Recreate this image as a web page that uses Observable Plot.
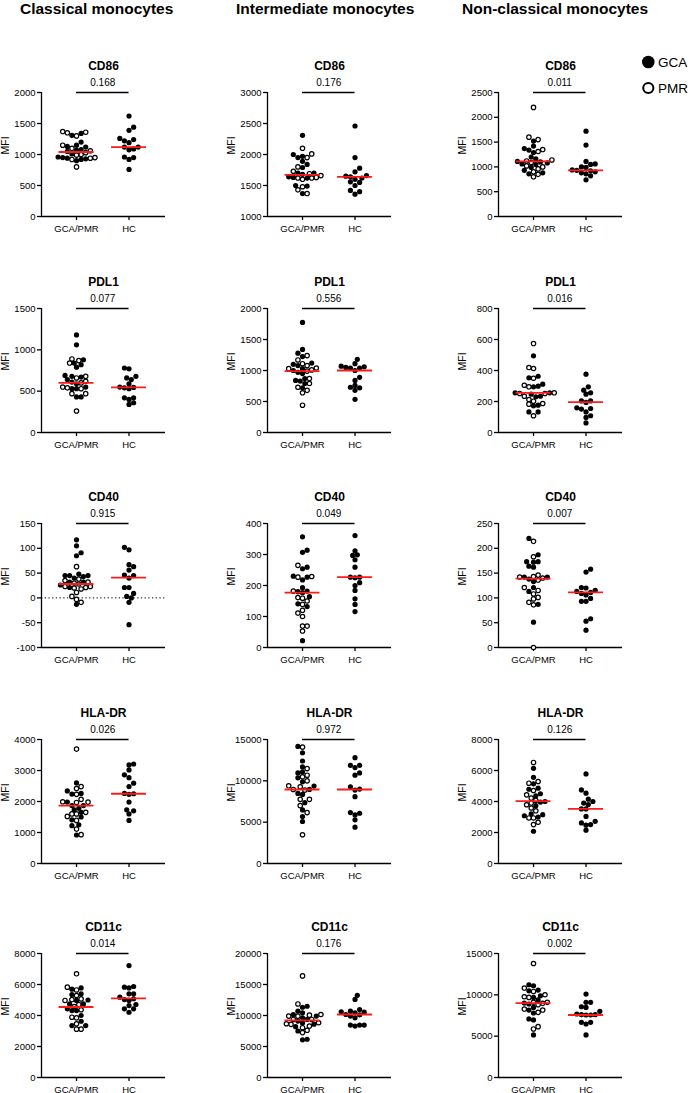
<!DOCTYPE html>
<html><head><meta charset="utf-8">
<script src="https://cdn.jsdelivr.net/npm/d3@7"></script>
<script src="https://cdn.jsdelivr.net/npm/@observablehq/plot@0.6"></script>
<style>
html,body{margin:0;padding:0;background:#fff;overflow:hidden;}
#fig{position:relative;width:692px;height:1093px;font-family:"Liberation Sans",Arial,sans-serif;color:#000;}
.hdr{position:absolute;top:0.6px;font-weight:bold;font-size:15.5px;line-height:16px;white-space:nowrap;}
.panel{position:absolute;}
.panel svg{display:block;overflow:visible;}
#legend{position:absolute;left:630px;top:48px;}
</style></head><body><div id="fig"></div>
<script>
// ---------- labels ----------
const populations = ["Classical monocytes", "Intermediate monocytes", "Non-classical monocytes"];
const markers = ["CD86", "PDL1", "CD40", "HLA-DR", "CD11c"];
const groups = ["GCA/PMR", "HC"];
const legendLabels = ["GCA", "PMR"];

// ---------- CD86 ----------
const cd86ClassicalGCA = [1340, 1310, 1200, 1150, 1130, 1120, 1080, 1070, 1050, 1010, 960, 950, 940, 930, 920, 900];
const cd86ClassicalPMR = [1370, 1360, 1350, 1300, 1150, 1100, 1060, 1030, 1000, 990, 950, 940, 920, 800];
const cd86ClassicalHC = [1620, 1440, 1390, 1260, 1240, 1220, 1190, 1120, 1120, 1090, 1075, 960, 950, 920, 760];
const cd86IntermediateGCA = [2310, 2000, 1970, 1950, 1890, 1840, 1790, 1700, 1700, 1680, 1640, 1630, 1620, 1500, 1490, 1370];
const cd86IntermediatePMR = [2100, 2010, 1950, 1800, 1730, 1690, 1660, 1630, 1620, 1620, 1600, 1480, 1430, 1370];
const cd86IntermediateHC = [2460, 1950, 1780, 1720, 1660, 1650, 1640, 1620, 1600, 1560, 1550, 1500, 1420, 1400, 1360];
const cd86NonclassicalGCA = [1520, 1420, 1370, 1340, 1290, 1200, 1160, 1110, 1100, 1080, 1060, 1050, 990, 930, 880, 860];
const cd86NonclassicalPMR = [2200, 1600, 1550, 1350, 1310, 1140, 1120, 1090, 1020, 1000, 960, 900, 850, 800];
const cd86NonclassicalHC = [1720, 1440, 1110, 1060, 1050, 1000, 990, 940, 930, 920, 900, 880, 860, 820, 740];

// ---------- PDL1 ----------
const pdl1ClassicalGCA = [1180, 1060, 880, 840, 820, 790, 690, 680, 670, 640, 610, 590, 550, 530, 530, 430, 430];
const pdl1ClassicalPMR = [890, 870, 840, 680, 660, 620, 600, 550, 540, 530, 470, 470, 260];
const pdl1ClassicalHC = [780, 770, 680, 660, 640, 590, 550, 545, 540, 530, 420, 420, 400, 360, 340];
const pdl1IntermediateGCA = [1775, 1340, 1280, 1225, 1120, 1100, 1080, 1030, 1000, 970, 950, 870, 840, 830, 790, 720];
const pdl1IntermediatePMR = [1240, 1170, 1110, 1080, 1040, 1030, 1010, 990, 870, 790, 730, 680, 640, 440];
const pdl1IntermediateHC = [1180, 1110, 1070, 1060, 1050, 1040, 1040, 1000, 890, 840, 760, 730, 720, 680, 535];
const pdl1NonclassicalGCA = [495, 363, 353, 312, 299, 295, 256, 247, 256, 234, 230, 176, 172, 133, 133];
const pdl1NonclassicalPMR = [574, 419, 413, 350, 305, 295, 256, 252, 252, 234, 213, 202, 187, 183, 108];
const pdl1NonclassicalHC = [376, 295, 273, 256, 247, 204, 204, 194, 159, 155, 151, 133, 108, 97, 62];

// ---------- CD40 ----------
const cd40ClassicalGCA = [117, 105, 91, 85, 48, 45, 45, 45, 43, 40, 32, 32, 26, 21, -13];
const cd40ClassicalPMR = [63, 38, 35, 32, 30, 28, 23, 23, 21, 20, 18, 11, 3, -3, -9];
const cd40ClassicalHC = [102, 97, 67, 63, 56, 46, 45, 40, 21, 21, 9, 3, 0, -9, -54];
const cd40IntermediateGCA = [357, 314, 307, 259, 254, 230, 227, 218, 193, 182, 180, 177, 164, 141, 132, 22];
const cd40IntermediatePMR = [265, 229, 227, 182, 161, 159, 150, 139, 120, 111, 100, 69, 69, 53];
const cd40IntermediateHC = [361, 312, 299, 297, 283, 259, 227, 227, 225, 209, 200, 184, 157, 139, 116];
const cd40NonclassicalGCA = [220, 187, 173, 173, 172, 164, 162, 142, 142, 138, 133, 121, 113, 87, 51];
const cd40NonclassicalPMR = [214, 183, 146, 143, 142, 140, 136, 121, 115, 108, 101, 98, 91, 86, 0];
const cd40NonclassicalHC = [158, 152, 121, 120, 115, 113, 111, 109, 106, 99, 93, 93, 58, 53, 35];

// ---------- HLA-DR ----------
const hladrClassicalGCA = [2600, 2340, 2260, 2240, 1980, 1870, 1870, 1780, 1730, 1650, 1500, 1410, 1250, 1220, 920];
const hladrClassicalPMR = [3690, 2480, 2420, 2230, 2070, 1990, 1980, 1970, 1650, 1600, 1600, 1520, 1390, 1110, 930];
const hladrClassicalHC = [3210, 3180, 3020, 2860, 2770, 2590, 2480, 2260, 2250, 2230, 1980, 1730, 1700, 1600, 1390];
const hladrIntermediateGCA = [14160, 13400, 12400, 11680, 11080, 10960, 10360, 9880, 9360, 8960, 8480, 8360, 7360, 6480, 5680, 5080];
const hladrIntermediatePMR = [14080, 11480, 10680, 10480, 10000, 9400, 9280, 8960, 8880, 7760, 7760, 7000, 6160, 3480];
const hladrIntermediateHC = [12800, 11880, 11880, 11600, 10960, 10680, 9280, 9000, 8880, 8080, 6160, 6080, 5880, 5280, 4400];
const hladrNonclassicalGCA = [6140, 5560, 5140, 4860, 4790, 4500, 4370, 4000, 3960, 3730, 3210, 3150, 3080, 3000, 2080];
const hladrNonclassicalPMR = [6520, 5290, 5180, 4710, 4430, 4220, 4070, 3900, 3790, 3580, 3400, 2940, 2940, 2660, 2510];
const hladrNonclassicalHC = [5780, 4750, 4540, 4150, 4000, 3900, 3800, 3520, 3520, 3040, 2720, 2620, 2510, 2470, 2150];

// ---------- CD11c ----------
const cd11cClassicalGCA = [5780, 5700, 5400, 5350, 5000, 4970, 4750, 4750, 4430, 4320, 4320, 4000, 3630, 3350, 3350];
const cd11cClassicalPMR = [6690, 5830, 5650, 5290, 5070, 5030, 4970, 4710, 4580, 4370, 3890, 3850, 3460, 3120, 3120];
const cd11cClassicalHC = [7220, 5870, 5830, 5780, 5400, 5400, 5180, 5080, 5030, 4970, 4710, 4640, 4430, 4430, 4210];
const cd11cIntermediateGCA = [11490, 11330, 10700, 10430, 10160, 9900, 9630, 9360, 9100, 8800, 8600, 8200, 7500, 6170, 6070];
const cd11cIntermediatePMR = [16390, 11860, 10160, 10060, 9900, 9890, 9360, 9360, 8830, 8670, 8570, 8300, 8030, 7610, 7240];
const cd11cIntermediateHC = [13250, 12600, 10960, 10700, 10600, 10530, 10430, 10160, 10100, 9900, 9630, 8460, 8460, 8460, 8300];
const cd11cNonclassicalGCA = [11220, 11100, 10570, 10490, 9890, 9690, 9400, 9000, 8890, 8480, 8160, 7800, 7080, 6960, 5150];
const cd11cNonclassicalPMR = [13790, 10820, 10410, 10010, 9770, 9690, 9090, 9090, 8970, 8810, 8280, 8160, 7880, 6150, 5870];
const cd11cNonclassicalHC = [10090, 9090, 9090, 8560, 8480, 8000, 7680, 7600, 7600, 7560, 7560, 6670, 6670, 6470, 5150];

// ---------- medians, p-values, y ticks (rows = markers, cols = populations) ----------
const mediansGCAPMR = [[1040, 1670, 1110], [600, 990, 256], [28, 177, 139], [1870, 8950, 4020], [4550, 9200, 9000]];
const mediansHC = [[1120, 1640, 930], [545, 1000, 196], [41, 227, 111], [2250, 8950, 3530], [5100, 10160, 7560]];
const pValues = [["0.168", "0.176", "0.011"], ["0.077", "0.556", "0.016"], ["0.915", "0.049", "0.007"], ["0.026", "0.972", "0.126"], ["0.014", "0.176", "0.002"]];
const yTicks = [
  [[0, 500, 1000, 1500, 2000], [1000, 1500, 2000, 2500, 3000], [0, 500, 1000, 1500, 2000, 2500]],
  [[0, 500, 1000, 1500], [0, 500, 1000, 1500, 2000], [0, 200, 400, 600, 800]],
  [[-100, -50, 0, 50, 100, 150], [0, 100, 200, 300, 400], [0, 50, 100, 150, 200, 250]],
  [[0, 1000, 2000, 3000, 4000], [0, 5000, 10000, 15000], [0, 2000, 4000, 6000, 8000]],
  [[0, 2000, 4000, 6000, 8000], [0, 5000, 10000, 15000, 20000], [0, 5000, 10000, 15000]]
];

const panelData = [
  [[cd86ClassicalGCA, cd86ClassicalPMR, cd86ClassicalHC], [cd86IntermediateGCA, cd86IntermediatePMR, cd86IntermediateHC], [cd86NonclassicalGCA, cd86NonclassicalPMR, cd86NonclassicalHC]],
  [[pdl1ClassicalGCA, pdl1ClassicalPMR, pdl1ClassicalHC], [pdl1IntermediateGCA, pdl1IntermediatePMR, pdl1IntermediateHC], [pdl1NonclassicalGCA, pdl1NonclassicalPMR, pdl1NonclassicalHC]],
  [[cd40ClassicalGCA, cd40ClassicalPMR, cd40ClassicalHC], [cd40IntermediateGCA, cd40IntermediatePMR, cd40IntermediateHC], [cd40NonclassicalGCA, cd40NonclassicalPMR, cd40NonclassicalHC]],
  [[hladrClassicalGCA, hladrClassicalPMR, hladrClassicalHC], [hladrIntermediateGCA, hladrIntermediatePMR, hladrIntermediateHC], [hladrNonclassicalGCA, hladrNonclassicalPMR, hladrNonclassicalHC]],
  [[cd11cClassicalGCA, cd11cClassicalPMR, cd11cClassicalHC], [cd11cIntermediateGCA, cd11cIntermediatePMR, cd11cIntermediateHC], [cd11cNonclassicalGCA, cd11cNonclassicalPMR, cd11cNonclassicalHC]]
];

// ---------- layout ----------
const W = 173, H = 184, mL = 41, mR = 8, mT = 40, mB = 20;
const innerW = W - mL - mR, innerH = H - mT - mB;
const xDomain = [-0.667, 1.695];
const pxPerUnit = innerW / (xDomain[1] - xDomain[0]);
const colLeft = [0, 226, 457];
const frameTop = [92, 308, 523, 739, 953];
const hdrLeft = [20, 236, 462];
const DOT_R = 2.6, OPEN_R = 2.2, MIN_D = 4.6, STEP = 2.3;
const FONT = "Liberation Sans, Arial, sans-serif";

// beeswarm: horizontal pixel offsets so that dots do not overlap
function swarmOffsets(vals, toPx) {
  const items = vals.map((v, i) => ({i, y: toPx(v)})).sort((a, b) => a.y - b.y);
  const placed = [], off = new Array(vals.length);
  let bal = 0;
  for (const it of items) {
    let chosen = null;
    for (let k = 0; chosen === null && k < 300; k++) {
      const cands = k === 0 ? [0] : (bal > 0 ? [-k * STEP, k * STEP] : [k * STEP, -k * STEP]);
      for (const o of cands) {
        if (placed.every(q => (q.x - o) ** 2 + (q.y - it.y) ** 2 >= MIN_D * MIN_D - 1e-6)) { chosen = o; break; }
      }
    }
    placed.push({x: chosen, y: it.y});
    bal += Math.sign(chosen);
    off[it.i] = chosen;
  }
  return off;
}

const fig = document.getElementById("fig");

populations.forEach((name, c) => {
  const d = document.createElement("div");
  d.className = "hdr"; d.style.left = hdrLeft[c] + "px"; d.textContent = name;
  fig.appendChild(d);
});

markers.forEach((marker, r) => {
  populations.forEach((pop, c) => {
    const [gca, pmr, hc] = panelData[r][c];
    const ticks = yTicks[r][c];
    const ymin = ticks[0], ymax = ticks[ticks.length - 1];
    const toPx = v => (v - ymin) / (ymax - ymin) * innerH;
    const leftVals = gca.concat(pmr);
    const leftTypes = gca.map(() => "GCA").concat(pmr.map(() => "PMR"));
    const offL = swarmOffsets(leftVals, toPx);
    const offR = swarmOffsets(hc, toPx);
    const pts = leftVals.map((v, i) => ({x: 0 + offL[i] / pxPerUnit, y: v, type: leftTypes[i]}))
      .concat(hc.map((v, i) => ({x: 1 + offR[i] / pxPerUnit, y: v, type: "HC"})));
    const filled = pts.filter(p => p.type !== "PMR");
    const open = pts.filter(p => p.type === "PMR");
    const meds = [{g: 0, m: mediansGCAPMR[r][c]}, {g: 1, m: mediansHC[r][c]}];

    const svg = Plot.plot({
      width: W, height: H, marginLeft: mL, marginRight: mR, marginTop: mT, marginBottom: mB,
      style: {fontFamily: FONT, fontSize: "9.5px", color: "#000", background: "transparent", overflow: "visible"},
      x: {domain: xDomain, axis: null},
      y: {domain: [ymin, ymax], axis: null},
      marks: [
        ymin < 0 ? Plot.ruleY([0], {stroke: "#000", strokeWidth: 1, strokeDasharray: "1.3,2.4"}) : null,
        Plot.ruleX([xDomain[0]], {stroke: "#000", strokeWidth: 1.3}),
        Plot.ruleY([ymin], {stroke: "#000", strokeWidth: 1.3}),
        Plot.axisY({ticks, tickSize: 4, tickPadding: 2, tickFormat: v => String(v), label: null, strokeWidth: 1.3}),
        Plot.axisX({ticks: [0, 1], tickSize: 4, tickPadding: 4.5, tickFormat: i => groups[i], label: null, strokeWidth: 1.3}),
        Plot.text(["MFI"], {frameAnchor: "left", rotate: -90, dx: -36, fontSize: 10.5}),
        Plot.text([marker], {frameAnchor: "top", dy: -31, fontWeight: "bold", fontSize: 12}),
        Plot.ruleY([ymax], {x1: 0, x2: 1, stroke: "#000", strokeWidth: 1.3}),
        Plot.text([pValues[r][c]], {x: 0.5, y: ymax, dy: -10, fontSize: 10}),
        Plot.dot(filled, {x: "x", y: "y", r: DOT_R, fill: "#000", stroke: "none"}),
        Plot.dot(open, {x: "x", y: "y", r: OPEN_R, fill: "#fff", stroke: "#000", strokeWidth: 1.2}),
        Plot.ruleY(meds, {y: "m", x1: dd => dd.g - 0.333, x2: dd => dd.g + 0.333, stroke: "#ff1a1a", strokeWidth: 1.8})
      ]
    });
    const wrap = document.createElement("div");
    wrap.className = "panel";
    wrap.style.left = colLeft[c] + "px";
    wrap.style.top = (frameTop[r] - mT) + "px";
    wrap.style.width = W + "px";
    wrap.appendChild(svg);
    fig.appendChild(wrap);
  });
});

// legend
const ns = "http://www.w3.org/2000/svg";
const lg = document.createElementNS(ns, "svg");
lg.setAttribute("id", "legend");
lg.setAttribute("width", 62); lg.setAttribute("height", 50);
lg.innerHTML =
  `<circle cx="18.3" cy="14" r="6.3" fill="#000"/>` +
  `<circle cx="18.3" cy="40" r="5.1" fill="#fff" stroke="#000" stroke-width="2"/>` +
  `<text x="28" y="18.7" font-family="${FONT}" font-size="13.5">${legendLabels[0]}</text>` +
  `<text x="28" y="44.5" font-family="${FONT}" font-size="13.5">${legendLabels[1]}</text>`;
fig.appendChild(lg);
</script></body></html>
